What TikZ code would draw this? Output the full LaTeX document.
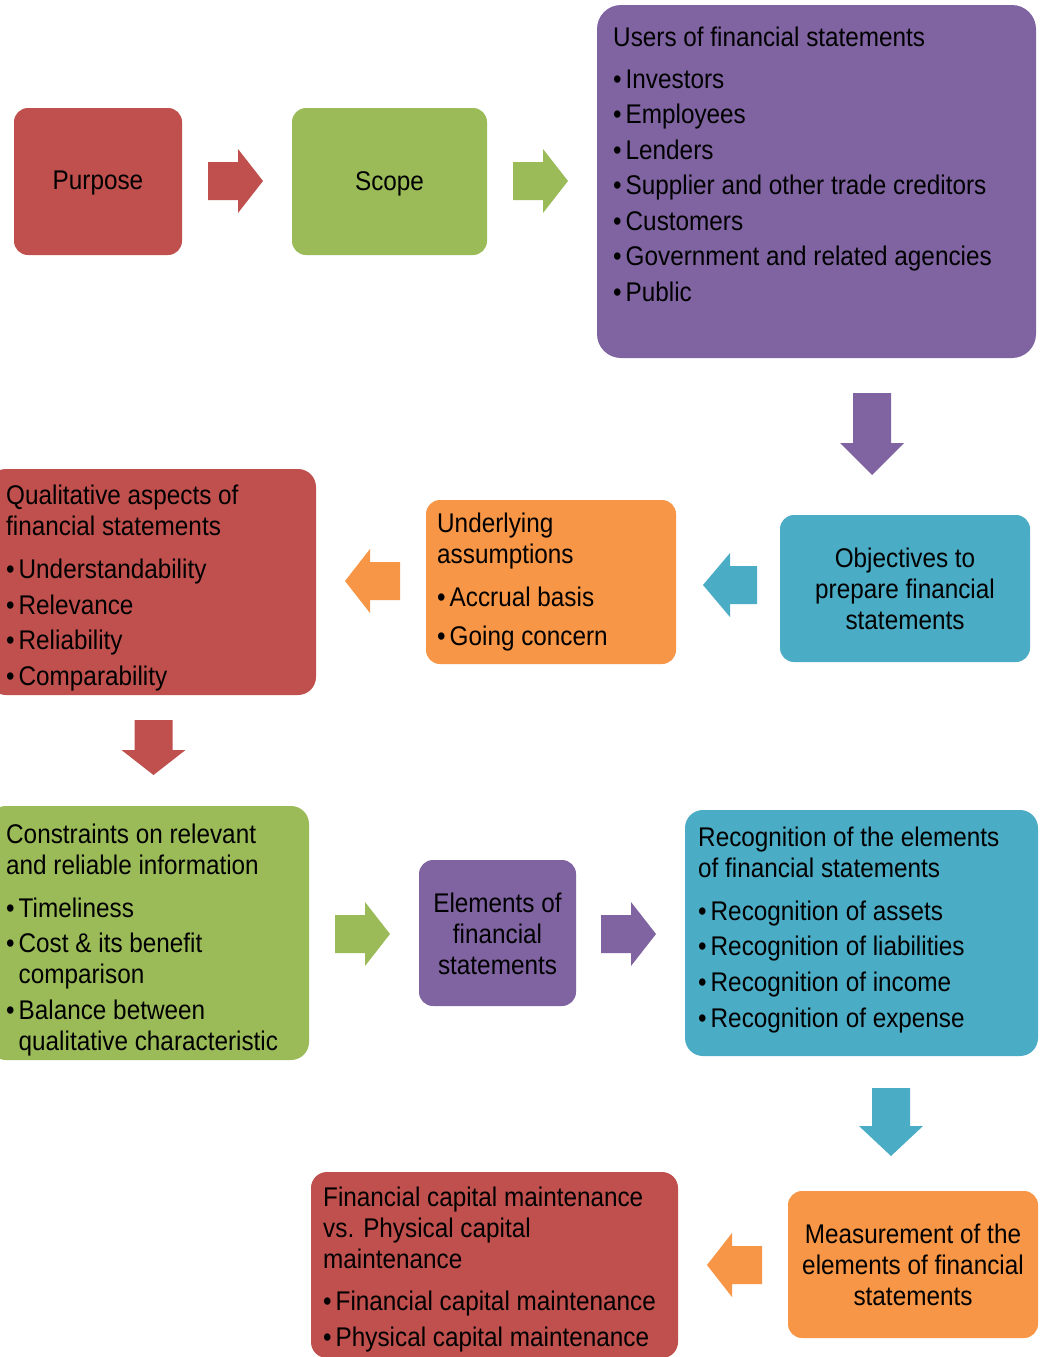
\documentclass[tikz,border=0pt]{standalone}
\usepackage{fontspec}
\setmainfont{Liberation Sans}[FakeStretch=0.9]
\definecolor{cred}{HTML}{C0504D}
\definecolor{cgreen}{HTML}{9BBB59}
\definecolor{cpurple}{HTML}{8064A2}
\definecolor{cblue}{HTML}{4BACC6}
\definecolor{corange}{HTML}{F79646}
\newcommand\fsz{\fontsize{27}{31}\selectfont}
\newcommand\itm[1]{\textbullet\hspace{4pt}#1}
\newcommand\cnt{\hphantom{\textbullet}\hspace{4pt}}
\newcommand\blkarrow[5]{\fill[#1, shift={(#2)}, rotate=#3] (0,-19) -- ({#4-#5},-19) -- ({#4-#5},-32) -- (#4,0) -- ({#4-#5},32) -- ({#4-#5},19) -- (0,19) -- cycle;}
\begin{document}
\begin{tikzpicture}[x=1pt,y=-1pt,
  box/.style={fill=#1, rounded corners=14pt, inner sep=0pt, align=center, font=\fsz},
  lbl/.style={inner sep=0pt, align=center, font=\fsz},
  txt/.style={anchor=north west, inner sep=0pt, align=left, font=\fsz}]
\clip (0,0) rectangle (1042,1357);
\fill[white] (0,0) rectangle (1042,1357);

% row 1
\node[box=cred, minimum width=168, minimum height=147] (purpose) at (98,181.5) {};
\node[lbl] (purposetxt) at (98,183.5) {Purpose};
\node[box=cgreen, minimum width=195, minimum height=147] (scope) at (389.5,181.5) {};
\node[lbl] (scopetxt) at (389.5,183.5) {Scope};
\node[box=cpurple, rounded corners=24pt, minimum width=439, minimum height=353] (users) at (816.5,181.5) {};
\node[txt] (userstxt) at (613,26.5) {Users of financial statements\\[11pt]
  \itm{Investors}\\[4.5pt]
  \itm{Employees}\\[4.5pt]
  \itm{Lenders}\\[4.5pt]
  \itm{Supplier and other trade creditors}\\[4.5pt]
  \itm{Customers}\\[4.5pt]
  \itm{Government and related agencies}\\[4.5pt]
  \itm{Public}};

% row 2
\node[box=cblue, minimum width=250, minimum height=147] (objectives) at (905,588.5) {};
\node[lbl] (objectivestxt) at (905,589) {Objectives to\\prepare financial\\statements};
\node[box=corange, minimum width=250, minimum height=164] (underlying) at (551,582) {};
\node[txt] (underlyingtxt) at (437,513) {Underlying\\assumptions\\[12pt]
  \itm{Accrual basis}\\[8pt]
  \itm{Going concern}};
\node[box=cred, rounded corners=18pt, minimum width=328, minimum height=226] (qualitative) at (152,582) {};
\node[txt] (qualitativetxt) at (6,485) {Qualitative aspects of\\financial statements\\[12pt]
  \itm{Understandability}\\[4.5pt]
  \itm{Relevance}\\[4.5pt]
  \itm{Reliability}\\[4.5pt]
  \itm{Comparability}};

% row 3
\node[box=cgreen, rounded corners=18pt, minimum width=321, minimum height=254] (constraints) at (148.5,933) {};
\node[txt] (constraintstxt) at (6,823.5) {Constraints on relevant\\and reliable information\\[12pt]
  \itm{Timeliness}\\[4.5pt]
  \itm{Cost \& its benefit}\\
  \cnt comparison\\[4.5pt]
  \itm{Balance between}\\
  \cnt qualitative characteristic};
\node[box=cpurple, minimum width=157, minimum height=146] (elements) at (497.5,933) {};
\node[lbl] (elementstxt) at (497.5,933.5) {Elements of\\financial\\statements};
\node[box=cblue, rounded corners=18pt, minimum width=353, minimum height=246] (recognition) at (861.5,933) {};
\node[txt] (recognitiontxt) at (698,826.5) {Recognition of the elements\\of financial statements\\[12pt]
  \itm{Recognition of assets}\\[4.5pt]
  \itm{Recognition of liabilities}\\[4.5pt]
  \itm{Recognition of income}\\[5.5pt]
  \itm{Recognition of expense}};

% row 4
\node[box=corange, minimum width=250, minimum height=147] (measurement) at (913,1264.5) {};
\node[lbl] (measurementtxt) at (913,1265) {Measurement of the\\elements of financial\\statements};
\node[box=cred, rounded corners=16pt, minimum width=367, minimum height=186] (capital) at (494.5,1265) {};
\node[txt] (capitaltxt) at (323,1187) {Financial capital maintenance\\vs. Physical capital\\maintenance\\[11pt]
  \itm{Financial capital maintenance}\\[4.5pt]
  \itm{Physical capital maintenance}};

% block arrows
\blkarrow{cred}{208,181}{0}{55}{25}
\blkarrow{cgreen}{513,181}{0}{55}{25}
\blkarrow{cpurple}{872,393}{-90}{82}{32}
\blkarrow{cblue}{757,585}{180}{54}{27}
\blkarrow{corange}{400,581}{180}{55}{25}
\blkarrow{cred}{153.5,720}{-90}{55}{25}
\blkarrow{cgreen}{335,934}{0}{55}{25}
\blkarrow{cpurple}{601,934}{0}{55}{25}
\blkarrow{cblue}{891,1088}{-90}{68}{30}
\blkarrow{corange}{762,1265}{180}{55}{25}
\end{tikzpicture}
\end{document}
